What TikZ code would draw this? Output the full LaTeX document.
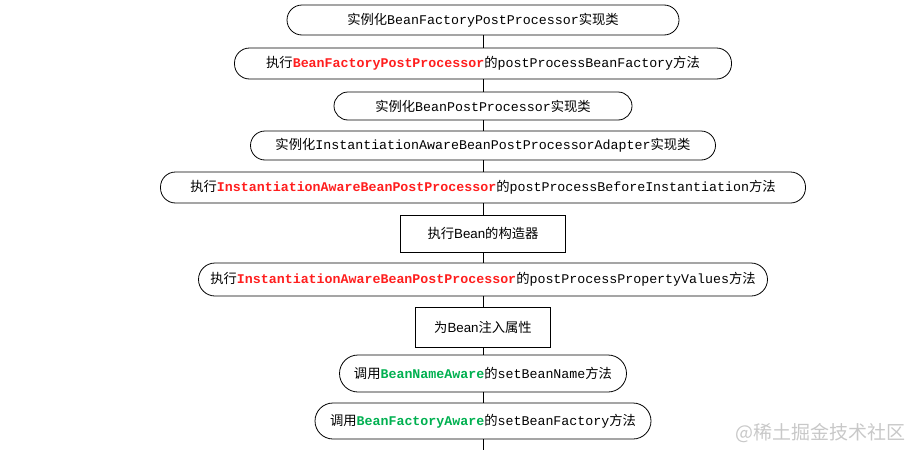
\documentclass[tikz,border=0pt]{standalone}
\usepackage{fontspec}
\setmainfont{Noto Sans CJK SC}
\setmonofont{Liberation Mono}
\newfontfamily\arialfont{Liberation Sans}
\usetikzlibrary{positioning}

\definecolor{hotred}{RGB}{255,30,30}
\definecolor{awaregreen}{RGB}{0,176,80}
\definecolor{markgray}{RGB}{200,200,200}

\newcommand{\code}[1]{{\ttfamily #1}}
\newcommand{\redcode}[1]{{\ttfamily\bfseries\color{hotred}#1}}
\newcommand{\greencode}[1]{{\ttfamily\bfseries\color{awaregreen}#1}}

\begin{document}
\begin{tikzpicture}[
    x=1pt, y=1pt,
    stage/.style={draw, rounded corners=15pt, line width=0.8pt, inner sep=0pt, outer sep=0pt, font=\fontsize{13.3}{15}\selectfont},
    plainbox/.style={draw, line width=0.8pt, inner sep=0pt, outer sep=0pt, font=\fontsize{13.3}{15}\selectfont},
    link/.style={line width=0.8pt},
  ]
  \useasboundingbox (0,0) rectangle (914,-450);

  % BeanFactoryPostProcessor
  \node[stage, minimum width=392pt, minimum height=30pt] (instbfpp) at (483,-20) {实例化\code{BeanFactoryPostProcessor}实现类};
  \node[stage, minimum width=497pt, minimum height=31pt, below=13pt of instbfpp] (runbfpp) {执行\redcode{BeanFactoryPostProcessor}的\code{postProcessBeanFactory}方法};

  % BeanPostProcessor
  \node[stage, minimum width=298pt, minimum height=28pt, rounded corners=14pt, below=13pt of runbfpp] (instbpp) {实例化\code{BeanPostProcessor}实现类};
  \node[stage, minimum width=465pt, minimum height=29pt, rounded corners=14.5pt, below=11pt of instbpp] (instiabpp) {实例化\code{InstantiationAwareBeanPostProcessorAdapter}实现类};
  \node[stage, minimum width=645pt, minimum height=31pt, below=12pt of instiabpp] (runbefore) {执行\redcode{InstantiationAwareBeanPostProcessor}的\code{postProcessBeforeInstantiation}方法};

  % constructor and properties
  \node[plainbox, minimum width=165pt, minimum height=37pt, below=12pt of runbefore] (ctor) {执行{\arialfont Bean}的构造器};
  \node[stage, minimum width=569pt, minimum height=33pt, rounded corners=16.5pt, below=11pt of ctor] (runprops) {执行\redcode{InstantiationAwareBeanPostProcessor}的\code{postProcessPropertyValues}方法};
  \node[plainbox, minimum width=135pt, minimum height=40pt, below=11pt of runprops] (props) {为{\arialfont Bean}注入属性};

  % Aware callbacks
  \node[stage, minimum width=287pt, minimum height=37pt, rounded corners=18.5pt, below=8pt of props] (setname) {调用\greencode{BeanNameAware}的\code{setBeanName}方法};
  \node[stage, minimum width=336pt, minimum height=36pt, rounded corners=18pt, below=11pt of setname] (setfactory) {调用\greencode{BeanFactoryAware}的\code{setBeanFactory}方法};
  \coordinate (tail) at (483,-450);

  \draw[link] (instbfpp) -- (runbfpp);
  \draw[link] (runbfpp) -- (instbpp);
  \draw[link] (instbpp) -- (instiabpp);
  \draw[link] (instiabpp) -- (runbefore);
  \draw[link] (runbefore) -- (ctor);
  \draw[link] (ctor) -- (runprops);
  \draw[link] (runprops) -- (props);
  \draw[link] (props) -- (setname);
  \draw[link] (setname) -- (setfactory);
  \draw[link] (setfactory) -- (tail);

  % watermark
  \node[font=\fontsize{19}{21}\selectfont, text=markgray, anchor=east] (mark) at (909,-433) {@稀土掘金技术社区};
\end{tikzpicture}
\end{document}
